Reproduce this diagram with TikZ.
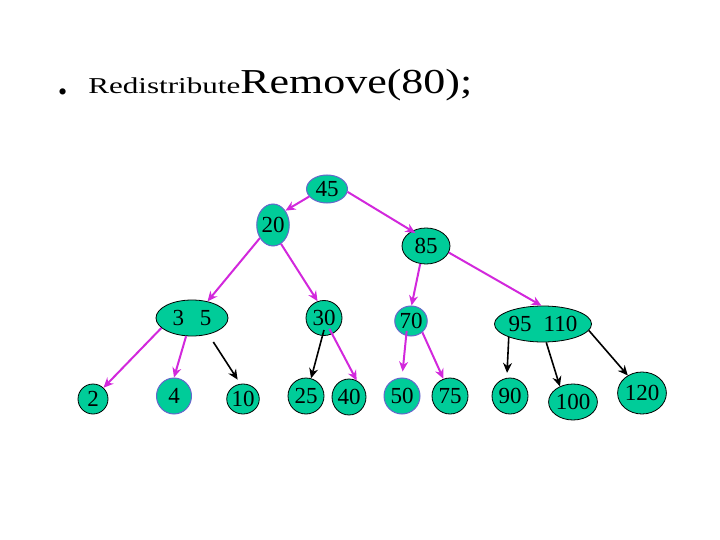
\documentclass[tikz,border=0pt]{standalone}
\usepackage{fontspec}
\setmainfont{Liberation Serif}
\usetikzlibrary{shapes.geometric,arrows.meta}
\definecolor{nodefill}{RGB}{0,204,153}
\definecolor{pborder}{RGB}{102,102,204}
\definecolor{mag}{RGB}{210,40,220}
\begin{document}
\begin{tikzpicture}[x=1pt,y=-1pt,
  tn/.style={ellipse,fill=nodefill,draw=black,line width=0.8pt,inner sep=0pt,
    font=\fontsize{23}{23}\selectfont},
  pn/.style={tn,draw=pborder,line width=1pt},
  ma/.style={draw=mag,line width=2pt,-{Stealth[length=10pt,width=9pt]}},
  ba/.style={draw=black,line width=1.6pt,-{Stealth[length=10pt,width=9pt]}}]
\useasboundingbox (0,0) rectangle (720,540);
% title
\node[anchor=base west,inner sep=0pt,font=\fontsize{26}{26}\selectfont] (bul) at (58,101) {•};
\node[anchor=base west,inner sep=0pt,xscale=1.37,font=\fontsize{22.7}{23}\selectfont] (red) at (88,94) {Redistribute};
\node[anchor=base west,inner sep=0pt,xscale=1.256,font=\fontsize{35}{35}\selectfont] (rem) at (240,94) {Remove(80);};
% nodes
\node[pn,minimum width=41pt,minimum height=28pt] (n45) at (327,189) {45};
\node[pn,minimum width=29pt,minimum height=42pt] (n20) at (273,225) {20};
\node[tn,minimum width=48pt,minimum height=36pt] (n85) at (426,246) {85};
\node[tn,minimum width=72pt,minimum height=36pt] (n35) at (192,318) {3\hspace{16pt}5};
\node[tn,minimum width=36pt,minimum height=35pt] (n30) at (324,318) {30};
\node[pn,minimum width=30pt,minimum height=30pt] (n70) at (411,321) {70};
\node[tn,minimum width=90pt,minimum height=36pt] (n95) at (543,324) {95\hspace{12pt}110};
\node[tn,minimum width=30pt,minimum height=30pt] (n2) at (93,399) {2};
\node[pn,minimum width=35pt,minimum height=36pt] (n4) at (174,396) {4};
\node[tn,minimum width=30pt,minimum height=30pt] (n10) at (243,399) {10};
\node[tn,minimum width=36pt,minimum height=36pt] (n25) at (306,396) {25};
\node[tn,minimum width=34pt,minimum height=36pt] (n40) at (349,397) {40};
\node[pn,minimum width=36pt,minimum height=36pt] (n50) at (402,396) {50};
\node[tn,minimum width=36pt,minimum height=36pt] (n75) at (450,396) {75};
\node[tn,minimum width=36pt,minimum height=36pt] (n90) at (510,396) {90};
\node[tn,minimum width=42pt,minimum height=36pt] (n100) at (573,402) {100};
\node[tn,minimum width=36pt,minimum height=42pt] (n120) at (642,393) {120};
% connectors
\draw[ma] (n45.203) -- (n20.49);
\draw[ma,shorten >=-4pt] (n45.352) -- (n85.133);
\draw[ma] (n20.225) -- (n35.47);
\draw[ma] (n20.293) -- (n30.111);
\draw[ma] (n35.198) -- (n2.47);
\draw[ma] (n35.252) -- (n4.90);
\draw[ba,shorten <=9pt,shorten >=5pt] (n35.315) -- (n10.100);
\draw[ba,shorten <=-6pt] (n30.265) -- (n25.74);
\draw[ma,shorten <=-6pt] (n30.297) -- (n40.65);
\draw[ma] (n85.252) -- (n70.88);
\draw[ma] (n85.344) -- (n95.95);
\draw[ma,shorten <=-5pt,shorten >=6pt] (n70.252) -- (n50.90);
\draw[ma] (n70.315) -- (n75.111);
\draw[ba,shorten >=5pt] (n95.201) -- (n90.100);
\draw[ba] (n95.280) -- (n100.130);
\draw[ba] (n95.352) -- (n120.129);
\end{tikzpicture}
\end{document}
